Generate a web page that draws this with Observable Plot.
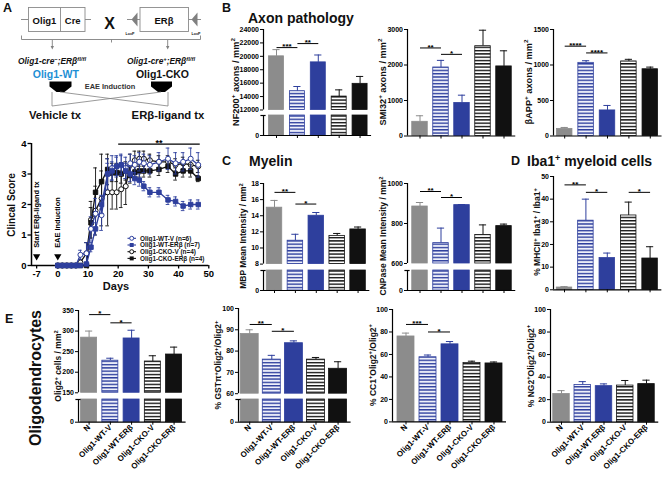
<!DOCTYPE html>
<html><head><meta charset="utf-8">
<script src="https://cdn.jsdelivr.net/npm/d3@7"></script>
<script src="https://cdn.jsdelivr.net/npm/@observablehq/plot@0.6"></script>
<style>
html,body{margin:0;padding:0;background:#fff;}
#fig{position:relative;width:670px;height:478px;overflow:hidden;background:#fff;}
#fig svg{position:absolute;overflow:visible;}
</style></head>
<body><div id="fig"></div>
<script>
// ---------------- DATA ----------------
const groups = ["N", "Olig1-WT-V", "Olig1-WT-ERβ", "Olig1-CKO-V", "Olig1-CKO-ERβ"];

const nf200Mean = [20000, 14800, 19100, 14000, 15900];
const nf200Sem  = [1000, 700, 1100, 1000, 1100];
const nf200Sig  = [{from:0,to:1,y:21300,label:"***"},{from:1,to:2,y:21900,label:"**"}];
const nf200Ticks = [12000,14000,16000,18000,20000,22000,24000];

const smi32Mean = [400, 1930, 930, 2530, 1960];
const smi32Sem  = [170, 200, 220, 450, 440];
const smi32Sig  = [{from:0,to:1,y:2480,label:"**"},{from:1,to:2,y:2300,label:"*"}];
const smi32Ticks = [0,1000,2000,3000];

const bappMean = [100, 1030, 360, 1050, 940];
const bappSem  = [20, 30, 70, 30, 30];
const bappSig  = [{from:0,to:1,y:1265,label:"****"},{from:1,to:2,y:1170,label:"****"}];
const bappTicks = [0,500,1000,1500];

const mbpMean = [15.0, 10.9, 14.0, 11.5, 12.3];
const mbpSem  = [0.9, 0.8, 0.4, 0.3, 0.3];
const mbpSig  = [{from:0,to:1,y:16.9,label:"**"},{from:1,to:2,y:15.45,label:"*"}];
const mbpTicks = [8,10,12,14,16,18];

const cnpMean = [885, 702, 892, 743, 787];
const cnpSem  = [20, 75, 3, 50, 10];
const cnpSig  = [{from:0,to:1,y:960,label:"**"},{from:1,to:2,y:930,label:"*"}];
const cnpTicks = [600,800,1000];

const mhcMean = [1.0, 30.5, 14.0, 32.8, 13.8];
const mhcSem  = [0.4, 9.5, 2.2, 5.9, 5.2];
const mhcSig  = [{from:0,to:1,y:46.3,label:"**"},{from:1,to:2,y:43,label:"*"},{from:3,to:4,y:43,label:"*"}];
const mhcTicks = [0,10,20,30,40,50];

const olig2Mean = [284, 228, 282, 226, 243];
const olig2Sem  = [16, 6, 20, 14, 18];
const olig2Sig  = [{from:0,to:1,y:340,label:"*"},{from:1,to:2,y:320,label:"*"}];
const olig2Ticks = [150,200,250,300,350];

const gstMean = [88, 76, 83.7, 76, 71.7];
const gstSem  = [2, 2, 1.1, 1, 3.3];
const gstSig  = [{from:0,to:1,y:92.5,label:"**"},{from:1,to:2,y:89.3,label:"*"}];
const gstTicks = [60,70,80,90,100];

const cc1Mean = [76, 57.5, 69, 52.5, 52];
const cc1Sem  = [3, 2, 2.5, 1.5, 1.3];
const cc1Sig  = [{from:0,to:1,y:86.7,label:"***"},{from:1,to:2,y:80,label:"*"}];
const pctTicks = [0,20,40,60,80,100];

const ng2Mean = [25, 33, 32, 32.5, 33.8];
const ng2Sem  = [3, 3, 2, 4.5, 3.5];
const ng2Sig  = [];

// clinical score time course
const days = [0,1.5,3,4.5,6, 7.5,9.5,11,12.5,14.5, 16.5,18,19.5,21,22.5, 24,25.5,27,28.5,30.5, 33.5,36.5,39,41.5,44, 46.5];
const wtV    = [0,0,0,0,0, 0.35,0.4,1.2,1.7,1.65, 3.0,3.2,3.25,3.3,3.2, 3.35,3.3,3.4,3.35,3.3, 3.4,3.5,3.35,3.4,3.5, 3.3];
const wtVsem = [0,0,0,0,0, 0.15,0.35,0.4,0.5,0.5, 0.5,0.4,0.35,0.35,0.35, 0.3,0.3,0.3,0.3,0.3, 0.3,0.35,0.35,0.3,0.35, 0.4];
const wtE    = [0,0,0,0,0, 0,0.05,0.6,1.2,2.0, 3.0,3.1,3.25,3.3,3.1, 3.0,2.85,2.8,2.6,2.4, 2.4,2.15,2.1,1.95,2.0, 2.0];
const wtEsem = [0,0,0,0,0, 0,0.05,0.15,0.2,0.3, 0.35,0.3,0.3,0.3,0.25, 0.25,0.2,0.2,0.15,0.15, 0.15,0.15,0.15,0.15,0.15, 0.15];
const ckoV    = [0,0,0,0,0, 0.1,0.4,1.5,1.8,2.2, 2.4,2.4,2.4,2.5,2.6, 3.3,3.45,3.5,3.5,3.45, 3.4,3.4,3.3,3.35,3.3, 3.25];
const ckoVsem = [0,0,0,0,0, 0.1,0.35,0.6,0.8,0.9, 1.1,0.55,0.55,0.6,0.6, 0.35,0.3,0.25,0.25,0.2, 0.2,0.2,0.2,0.2,0.2, 0.2];
const ckoE    = [0,0,0,0,0, 0,0,1.4,2.4,2.75, 3.15,3.05,3.05,3.0,3.1, 2.95,3.05,3.1,3.1,3.1, 3.15,3.25,3.0,3.1,3.1, 2.85];
const ckoEsem = [0,0,0,0,0, 0,0,0.5,0.8,0.9, 0.5,0.3,0.3,0.3,0.3, 0.25,0.2,0.2,0.2,0.2, 0.2,0.2,0.2,0.2,0.2, 0.1];
const lineSeries = ["Olig1-WT-V (n=6)", "Olig1-WT-ERβ (n=7)", "Olig1-CKO-V (n=4)", "Olig1-CKO-ERβ (n=4)"];
const lineMean = [wtV, wtE, ckoV, ckoE];
const lineSem  = [wtVsem, wtEsem, ckoVsem, ckoEsem];
const lineNotes = [{day:-7,label:"Start ERβ-ligand tx"},{day:0,label:"EAE Induction"}];
const lineSig = [{from:20,to:47,y:3.98,label:"**"}];
const dayTicks = [-7,0,10,20,30,40,50];
const scoreTicks = [0,1,2,3,4];

// ---------------- STYLE ----------------
const FONT = "Liberation Sans, Arial, Helvetica, sans-serif";
const BLUE = "#2e3f9d", GRAY = "#8c8c8c", BLACK = "#111111", SKY = "#1e8fd5";
const barFill   = [GRAY, "url(#hB)", BLUE, "url(#hK)", BLACK];
const barStroke = [GRAY, BLUE, BLUE, BLACK, BLACK];
const lineColor = [BLUE, BLUE, BLACK, BLACK];
const lineOpen  = [true, false, true, false];

const fig = document.getElementById("fig");
function place(svg, left, top) {
  svg.style.position = "absolute";
  svg.style.left = left + "px";
  svg.style.top = top + "px";
  svg.style.overflow = "visible";
  svg.style.background = "transparent";
  fig.appendChild(svg);
}
const plotStyle = (fs) => ({fontFamily: FONT, fontSize: fs + "px", fontWeight: "bold", color: "#000", background: "transparent", overflow: "visible"});

// ---------------- STATIC TEXT / SCHEMATIC ----------------
function ylab(x, y, parts, fs) {
  let s = `<text transform="translate(${x},${y}) rotate(-90)" text-anchor="middle" font-size="${fs}">`;
  let up = false;
  const sh = (fs * 0.4).toFixed(2), sf = (fs * 0.68).toFixed(2);
  for (const [t, sup] of parts) {
    if (sup && !up) { s += `<tspan font-size="${sf}" dy="-${sh}">${t}</tspan>`; up = true; }
    else if (!sup && up) { s += `<tspan dy="${sh}">${t}</tspan>`; up = false; }
    else if (sup) s += `<tspan font-size="${sf}">${t}</tspan>`;
    else s += `<tspan>${t}</tspan>`;
  }
  return s + `</text>`;
}
const P = (t) => [t, false], S = (t) => [t, true];

let ov = `<svg width="670" height="478" style="left:0;top:0" font-family="${FONT}" font-weight="bold" fill="#111">
<defs>
<pattern id="hB" patternUnits="userSpaceOnUse" width="6" height="3.3"><rect width="6" height="3.3" fill="#eef0fa"/><rect width="6" height="1.4" fill="${BLUE}"/></pattern>
<pattern id="hK" patternUnits="userSpaceOnUse" width="6" height="3.3"><rect width="6" height="3.3" fill="#ffffff"/><rect width="6" height="1.4" fill="${BLACK}"/></pattern>
</defs>
<g font-size="12.5"><text x="3" y="12">A</text><text x="222" y="12">B</text><text x="222" y="165">C</text><text x="511" y="165">D</text><text x="5" y="323">E</text></g>
<g font-size="14"><text x="248" y="22.5">Axon pathology</text><text x="249" y="166">Myelin</text>
<text x="527" y="166">Iba1<tspan font-size="9" dy="-5">+</tspan><tspan dy="5"> myeloid cells</tspan></text></g>
<text transform="translate(41,378) rotate(-90)" text-anchor="middle" font-size="16">Oligodendrocytes</text>
<g text-anchor="middle" font-size="9.5">
 <line x1="21" y1="19.5" x2="28.5" y2="19.5" stroke="#808080" stroke-width="0.9"/>
 <line x1="85" y1="19.5" x2="91" y2="19.5" stroke="#808080" stroke-width="0.9"/>
 <rect x="28.5" y="7.5" width="56.5" height="24" fill="none" stroke="#8a8a8a" stroke-width="0.9"/>
 <line x1="60.5" y1="7.5" x2="60.5" y2="31.5" stroke="#8a8a8a" stroke-width="0.9"/>
 <text x="44.5" y="23.5">Olig1</text><text x="72.7" y="23.5">Cre</text>
 <text x="109.5" y="28.5" font-size="16">X</text>
 <line x1="127" y1="19.5" x2="201" y2="19.5" stroke="#808080" stroke-width="0.9"/>
 <rect x="140" y="7.5" width="48.5" height="24" fill="#fff" stroke="#8a8a8a" stroke-width="0.9"/>
 <polygon points="137.5,12.5 137.5,26.5 131.5,19.5" fill="#808080"/>
 <polygon points="197.5,12.5 197.5,26.5 191.5,19.5" fill="#808080"/>
 <text x="164" y="23.5">ERβ</text>
 <text x="130" y="35.3" font-size="3.6">LoxP</text><text x="196" y="35.3" font-size="3.6">LoxP</text>
 <path d="M21.5,35.5 V39.5 H200.5 V35.5 M111.5,39.5 V42.5" fill="none" stroke="#808080" stroke-width="0.9"/>
 <path d="M52.3,40 V47 M167.7,40 V47" stroke="#808080" stroke-width="0.9"/>
 <polygon points="50.6,46 54,46 52.3,49.5" fill="#808080"/><polygon points="166,46 169.4,46 167.7,49.5" fill="#808080"/>
 <text x="52" y="64" font-size="8.4" font-style="italic">Olig1-cre<tspan font-size="5.8" dy="-3.3">−</tspan><tspan dy="3.3">;ERβ</tspan><tspan font-size="5.8" dy="-3.3">fl/fl</tspan></text>
 <text x="161" y="64" font-size="8.4" font-style="italic">Olig1-cre<tspan font-size="5.8" dy="-3.3">+</tspan><tspan dy="3.3">;ERβ</tspan><tspan font-size="5.8" dy="-3.3">fl/fl</tspan></text>
 <text x="55.8" y="78" font-size="10.5" fill="${SKY}">Olig1-WT</text>
 <text x="162.5" y="78" font-size="10.5">Olig1-CKO</text>
 <polygon points="49.5,81.5 71.5,81.5 71.5,86.5 64.5,92 56.5,92 49.5,86.5" fill="#000"/>
 <polygon points="151,81.5 172,81.5 172,86.5 165,92 158,92 151,86.5" fill="#000"/>
 <text x="110" y="88.5" font-size="7.4" fill="#333">EAE Induction</text>
 <path d="M52,92 V106 M168,92 V106 M60,92 L168,106 M161,92 L52,106" stroke="#808080" stroke-width="0.8" fill="none"/>
 <text x="55" y="118.5" font-size="11.3">Vehicle tx</text>
 <text x="168" y="118.5" font-size="11.3">ERβ-ligand tx</text>
</g>
<text transform="translate(14.5,205) rotate(-90)" text-anchor="middle" font-size="10">Clincal Score</text>
<text x="116" y="290" text-anchor="middle" font-size="11">Days</text>
`;
// legend of the clinical score chart
lineSeries.forEach((name, k) => {
  const y = 238.3 + k * 6.7, c = lineColor[k];
  ov += `<line x1="127.5" x2="136" y1="${y}" y2="${y}" stroke="${c}" stroke-width="1.1"/>`;
  ov += lineOpen[k]
    ? `<circle cx="131.7" cy="${y}" r="2" fill="#fff" stroke="${c}" stroke-width="1"/>`
    : `<rect x="129.7" y="${y - 2}" width="4" height="4" fill="${c}"/>`;
  ov += `<text x="140" y="${y}" dy="0.35em" font-size="6.4">${name}</text>`;
});
// axis titles of bar charts
ov += ylab(238.5, 82, [P("NF200"), S("+"), P(" axons / mm"), S("2")], 9.2);
ov += ylab(386, 82, [P("SMI32"), S("+"), P(" axons / mm"), S("2")], 9.2);
ov += ylab(532, 82, [P("βAPP"), S("+"), P(" axons / mm"), S("2")], 9.2);
ov += ylab(246, 236, [P("MBP Mean Intensity / mm"), S("2")], 8.5);
ov += ylab(386, 236, [P("CNPase Mean Intensity / mm"), S("2")], 8.5);
ov += ylab(540, 232, [P("% MHCII"), S("+"), P(" Iba1"), S("+"), P(" / Iba1"), S("+")], 8.5);
ov += ylab(61, 366, [P("Olig2"), S("+"), P(" cells / mm"), S("2")], 8.5);
ov += ylab(221, 365, [P("% GSTπ"), S("+"), P("Olig2"), S("+"), P("/Olig2"), S("+")], 8.5);
ov += ylab(375.5, 365, [P("% CC1"), S("+"), P("Olig2"), S("+"), P("/Olig2"), S("+")], 8.5);
ov += ylab(533.5, 366, [P("% NG2"), S("+"), P("Olig2"), S("+"), P("/Olig2"), S("+")], 8.5);
ov += `</svg>`;
fig.insertAdjacentHTML("beforeend", ov);

const fmt = d => String(d);

// ---------------- CLINICAL SCORE LINE CHART ----------------
{
  const W = 222, H = 160;
  const marks = [
    Plot.ruleX([-8.7], {y1: 0, y2: 4, stroke: "#000", strokeWidth: 1.5}),
    Plot.ruleY([0], {x1: -8.7, x2: 50, stroke: "#000", strokeWidth: 1.5}),
    Plot.axisY(scoreTicks, {anchor: "left", tickSize: 3.5, tickPadding: 1.5, strokeWidth: 1.3, label: null, tickFormat: fmt}),
    Plot.axisX(dayTicks, {anchor: "bottom", tickSize: 3.5, tickPadding: 1, strokeWidth: 1.3, label: null, tickFormat: fmt})
  ];
  for (const k of [2, 3, 0, 1]) {
    const c = lineColor[k];
    const pts = days.map((d, i) => ({day: d, m: lineMean[k][i], e: lineSem[k][i]}));
    const eb = pts.filter(p => p.e > 0);
    marks.push(
      Plot.ruleX(eb, {x: "day", y1: p => Math.max(0, p.m - p.e), y2: p => p.m + p.e, stroke: c, strokeWidth: 0.9}),
      Plot.ruleY(eb, {y: p => p.m + p.e, x1: p => p.day - 0.6, x2: p => p.day + 0.6, stroke: c, strokeWidth: 0.9}),
      Plot.ruleY(eb.filter(p => p.m - p.e > 0), {y: p => p.m - p.e, x1: p => p.day - 0.6, x2: p => p.day + 0.6, stroke: c, strokeWidth: 0.9}),
      Plot.line(pts, {x: "day", y: "m", stroke: c, strokeWidth: 1.3}),
      Plot.dot(pts, {x: "day", y: "m", r: 2.5, symbol: lineOpen[k] ? "circle" : "square", fill: lineOpen[k] ? "#fff" : c, stroke: c, strokeWidth: 1})
    );
  }
  marks.push(
    Plot.link(lineSig, {x1: "from", x2: "to", y1: "y", y2: "y", stroke: "#000", strokeWidth: 1.2}),
    Plot.text(lineSig, {x: d => (d.from + d.to) / 2, y: "y", text: "label", lineAnchor: "bottom", dy: 1.5, fontSize: 9}),
    Plot.dot(lineNotes, {x: "day", y: 0.3, symbol: "triangle", rotate: 180, r: 2.7, fill: "#000", stroke: "none"}),
    Plot.text(lineNotes, {x: "day", y: 0.58, text: "label", rotate: -90, textAnchor: "start", fontSize: 7.4})
  );
  const svg = Plot.plot({
    width: W, height: H, marginLeft: 31, marginRight: W - 208.3, marginTop: 13, marginBottom: H - 135,
    x: {type: "linear", domain: [-8.7, 50], range: [31, 208.3], label: null},
    y: {type: "linear", domain: [0, 4], range: [135, 13], label: null},
    style: plotStyle(9.5),
    marks
  });
  place(svg, 0, 130);
}

// ---------------- BAR CHARTS ----------------
function barChart(c) {
  const data = c.mean.map((m, i) => ({i, m, e: c.sem[i]}));
  const hw = c.bw / 2 / c.pitch, cap = 3.6 / c.pitch;
  const xa = (c.axisX - c.c0) / c.pitch;
  const xr = 4 + (c.bw / 2 + 4) / c.pitch;
  const left = c.axisX - 34;
  const W = c.c0 + 4 * c.pitch + c.bw / 2 + 8 - left;
  const idx = [0, 1, 2, 3, 4];

  function seg(yTop, yBot, lo, hi, ticks, padTop, padBot, marks, withX) {
    const top = yTop - padTop, H = yBot + padBot - top;
    const all = [...marks,
      Plot.ruleX([xa], {y1: lo, y2: hi, stroke: "#000", strokeWidth: 1.2}),
      Plot.axisY(ticks, {anchor: "left", tickSize: 3, tickPadding: 1.5, strokeWidth: 1, label: null, tickFormat: fmt})
    ];
    if (withX) {
      all.push(
        Plot.ruleY([lo], {x1: xa, x2: xr, stroke: "#000", strokeWidth: 1.2}),
        Plot.axisX(idx, c.xlabels
          ? {anchor: "bottom", tickSize: 3, tickPadding: 1, strokeWidth: 1, label: null, tickFormat: i => groups[i], tickRotate: -45, fontSize: 8}
          : {anchor: "bottom", tickSize: 3, tickPadding: 1, strokeWidth: 1, label: null, tickFormat: () => ""})
      );
    }
    const svg = Plot.plot({
      width: W, height: H, marginLeft: c.axisX - left, marginRight: 0, marginTop: padTop, marginBottom: padBot,
      x: withX ? {type: "linear", domain: [0, 4], range: [c.c0 - left, c.c0 + 4 * c.pitch - left], label: null}
               : {type: "linear", domain: [0, 4], range: [c.c0 - left, c.c0 + 4 * c.pitch - left], label: null, axis: null},
      y: {type: "linear", domain: [lo, hi], range: [yBot - top, yTop - top], label: null},
      style: plotStyle(7),
      marks: all
    });
    place(svg, left, top);
  }

  const lo = c.lo;
  const main = [];
  for (const i of idx) {
    const d = data.filter(v => v.i === i);
    main.push(
      Plot.ruleX(d, {x: "i", y1: "m", y2: v => v.m + v.e, stroke: barStroke[i], strokeWidth: 1}),
      Plot.ruleY(d, {y: v => v.m + v.e, x1: v => v.i - cap, x2: v => v.i + cap, stroke: barStroke[i], strokeWidth: 1}),
      Plot.rectY(d, {x1: v => v.i - hw, x2: v => v.i + hw, y1: lo, y2: "m", fill: barFill[i], stroke: barStroke[i], strokeWidth: 0.8})
    );
  }
  main.push(
    Plot.link(c.sig, {x1: "from", x2: "to", y1: "y", y2: "y", stroke: "#000", strokeWidth: 1}),
    Plot.text(c.sig, {x: d => (d.from + d.to) / 2, y: "y", text: "label", lineAnchor: "bottom", dy: 1.8, fontSize: 8})
  );
  const padBot = c.xlabels ? 56 : 8;
  if (c.broken) {
    seg(c.top, c.bottom, lo, c.hi, c.ticks, 22, 2, main, false);
    const lower = [];
    for (const i of idx) {
      lower.push(Plot.rectY(data.filter(v => v.i === i), {x1: v => v.i - hw, x2: v => v.i + hw, y1: 0, y2: lo, fill: barFill[i], stroke: barStroke[i], strokeWidth: 0.8}));
    }
    lower.push(Plot.ruleY([lo], {x1: xa - 2.6 / c.pitch, x2: xa + 2.6 / c.pitch, stroke: "#000", strokeWidth: 1.2}));
    seg(c.broken.top, c.broken.zero, 0, lo, [0], 3, padBot, lower, true);
  } else {
    seg(c.top, c.bottom, 0, c.hi, c.ticks, 22, padBot, main, true);
  }
}

barChart({axisX: 263, c0: 276, pitch: 20.9, bw: 15, top: 28.5, bottom: 109, lo: 12000, hi: 24000, ticks: nf200Ticks, mean: nf200Mean, sem: nf200Sem, sig: nf200Sig, broken: {top: 115, zero: 135}});
barChart({axisX: 407, c0: 419.5, pitch: 21, bw: 15.5, top: 28.5, bottom: 135, lo: 0, hi: 3000, ticks: smi32Ticks, mean: smi32Mean, sem: smi32Sem, sig: smi32Sig});
barChart({axisX: 553, c0: 564.2, pitch: 21.4, bw: 15.5, top: 28.5, bottom: 135, lo: 0, hi: 1500, ticks: bappTicks, mean: bappMean, sem: bappSem, sig: bappSig});
barChart({axisX: 263, c0: 274, pitch: 20.9, bw: 15.5, top: 182.7, bottom: 263.3, lo: 8, hi: 18, ticks: mbpTicks, mean: mbpMean, sem: mbpSem, sig: mbpSig, broken: {top: 270, zero: 290}});
barChart({axisX: 407, c0: 419.5, pitch: 21, bw: 15.5, top: 182.7, bottom: 262.7, lo: 600, hi: 1000, ticks: cnpTicks, mean: cnpMean, sem: cnpSem, sig: cnpSig, broken: {top: 270, zero: 290}});
barChart({axisX: 553, c0: 564, pitch: 21.4, bw: 15.5, top: 175.7, bottom: 289, lo: 0, hi: 50, ticks: mhcTicks, mean: mhcMean, sem: mhcSem, sig: mhcSig});
barChart({axisX: 77.7, c0: 88.3, pitch: 21.25, bw: 16, top: 310, bottom: 392.3, lo: 150, hi: 350, ticks: olig2Ticks, mean: olig2Mean, sem: olig2Sem, sig: olig2Sig, broken: {top: 399, zero: 421.7}, xlabels: true});
barChart({axisX: 237.5, c0: 248.7, pitch: 22.1, bw: 18, top: 307.5, bottom: 392.7, lo: 60, hi: 100, ticks: gstTicks, mean: gstMean, sem: gstSem, sig: gstSig, broken: {top: 399, zero: 421.7}, xlabels: true});
barChart({axisX: 392, c0: 405.5, pitch: 22, bw: 17, top: 309.3, bottom: 421.7, lo: 0, hi: 100, ticks: pctTicks, mean: cc1Mean, sem: cc1Sem, sig: cc1Sig, xlabels: true});
barChart({axisX: 550, c0: 561, pitch: 21.25, bw: 16.5, top: 309.3, bottom: 422, lo: 0, hi: 100, ticks: pctTicks, mean: ng2Mean, sem: ng2Sem, sig: ng2Sig, xlabels: true});
</script></body></html>
